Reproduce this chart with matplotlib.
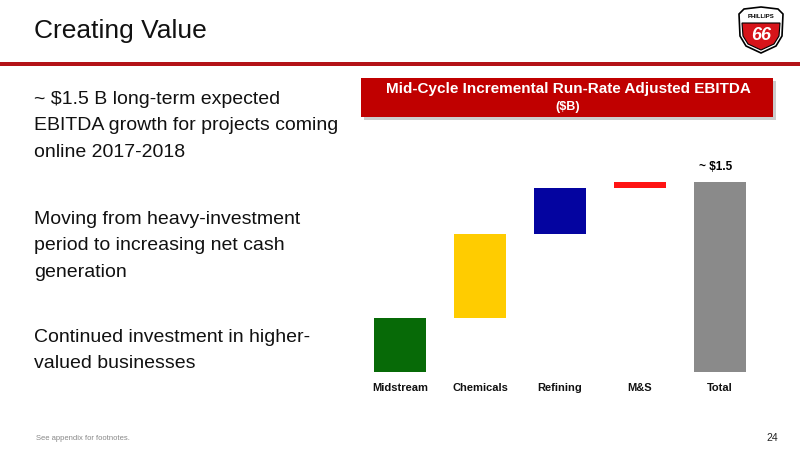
import matplotlib
matplotlib.use("Agg")
import matplotlib.pyplot as plt
from matplotlib.patches import Rectangle, Polygon
from matplotlib.transforms import blended_transform_factory

plt.rcParams['font.family'] = ['Liberation Sans', 'DejaVu Sans']

# data ($B)
categories = ['Midstream', 'Chemicals', 'Refining', 'M&S', 'Total']
increments = [0.43, 0.66, 0.36, 0.05]
total_label = '~ $1.5'
colors = ['#076A07', '#FFCC00', '#0404A0', '#FF1414', '#8A8A8A']

bullets = [
    ["~ $1.5 B long-term expected", "EBITDA growth for projects coming", "online 2017-2018"],
    ["Moving from heavy-investment", "period to increasing net cash", "generation"],
    ["Continued investment in higher-", "valued businesses"],
]

W, H = 800, 450
fig = plt.figure(figsize=(8, 4.5), dpi=100)
fig.patch.set_facecolor('white')

def fx(px):
    return px / W

def fy(py):
    return 1 - py / H

# title and rule
fig.text(fx(34), fy(31), 'Creating Value', fontsize=19, va='center', ha='left', color='#111111')
fig.add_artist(Rectangle((0, fy(65.5)), 1, 3 / H, transform=fig.transFigure,
                         facecolor='#B41218', edgecolor='none'))

# logo (simplified shield)
logo = fig.add_axes([fx(736), fy(54), fx(50), 48 / H])
logo.set_xlim(0, 50)
logo.set_ylim(0, 48)
logo.axis('off')
outer = [(3, 40), (8, 45), (25, 47), (42, 45), (47, 40), (46, 18), (40, 8), (25, 1), (10, 8), (4, 18)]
logo.add_patch(Polygon(outer, closed=True, facecolor='white', edgecolor='black', lw=1.2))
red = [(6, 31), (44, 31), (43, 18), (38, 10), (25, 4), (12, 10), (7, 18)]
logo.add_patch(Polygon(red, closed=True, facecolor='#D7141A', edgecolor='black', lw=0.8))
logo.text(25, 37, 'PHILLIPS', ha='center', va='center', fontsize=4.3, fontweight='bold', color='black')
logo.text(25, 18, '66', ha='center', va='center', fontsize=13, fontweight='bold',
          style='italic', color='white')

# bullet text, one line at a time
starts = [97, 217, 335]
for lines, y0 in zip(bullets, starts):
    for i, line in enumerate(lines):
        fig.text(fx(34), fy(y0 + i * 26.5 + 7), line, fontsize=14, va='baseline',
                 ha='left', color='#111111')

# chart header box
fig.add_artist(Rectangle((fx(364), fy(120)), fx(412), 39 / H, transform=fig.transFigure,
                         facecolor='#9a9a9a', edgecolor='none', alpha=0.5))
fig.add_artist(Rectangle((fx(361), fy(117)), fx(412), 39 / H, transform=fig.transFigure,
                         facecolor='#C00000', edgecolor='none'))
fig.text(fx(568), fy(89), 'Mid-Cycle Incremental Run-Rate Adjusted EBITDA', fontsize=11,
         fontweight='bold', color='white', ha='center', va='center')
fig.text(fx(568), fy(107), '($B)', fontsize=9, fontweight='bold', color='white',
         ha='center', va='center')

# waterfall
ax = fig.add_axes([fx(360), fy(372), fx(400), 200 / H])
bottoms = []
acc = 0
for v in increments:
    bottoms.append(acc)
    acc += v
total = acc
heights = increments + [total]
bottoms = bottoms + [0]
x = list(range(len(categories)))
ax.bar(x, heights, bottom=bottoms, width=0.65, color=colors, edgecolor='none')
ax.set_xlim(-0.5, 4.5)
ax.set_ylim(0, 200 / 126.7)
ax.set_xticks([])
ax.set_yticks([])
for s in ax.spines.values():
    s.set_visible(False)
trans = blended_transform_factory(ax.transData, fig.transFigure)
for xi, name in zip(x, categories):
    ax.text(xi, fy(391), name, transform=trans, ha='center', va='baseline',
            fontsize=8, fontweight='bold', color='#111111')
ax.text(3.95, fy(170), total_label, transform=trans, ha='center', va='baseline',
        fontsize=8.5, fontweight='bold')

# footer
fig.text(fx(36), fy(438), 'See appendix for footnotes.', fontsize=5.5, color='#888888', va='center')
fig.text(fx(778), fy(438), '24', fontsize=7.5, color='#222222', va='center', ha='right')

fig.savefig('out.png', dpi=100)
